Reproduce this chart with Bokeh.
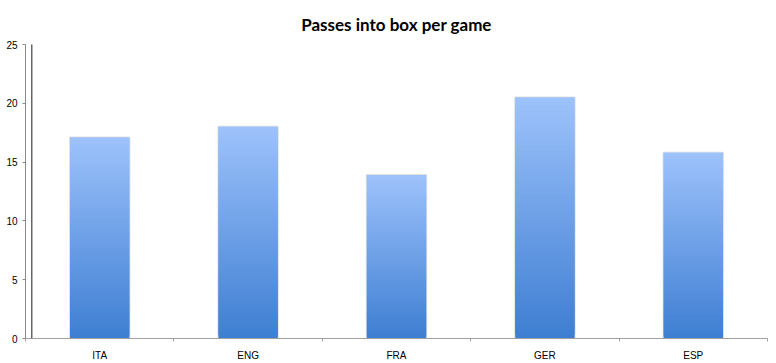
import numpy as np
from bokeh.plotting import figure
from bokeh.models import Range1d, FixedTicker, BoxAnnotation, ColumnDataSource
from bokeh.embed import file_html
from bokeh.resources import INLINE

categories = ["ITA", "ENG", "FRA", "GER", "ESP"]
values = [17.1, 18.0, 13.9, 20.5, 15.8]
y_ticks = [0, 5, 10, 15, 20, 25]
title_text = "Passes into box per game"

p = figure(width=776, height=363, output_backend="svg", toolbar_location=None,
           x_range=Range1d(0, len(categories)), y_range=Range1d(0, 25),
           min_border_left=25, min_border_right=9, min_border_top=44, min_border_bottom=21)
p.title.text = title_text
p.title.align = "center"
p.title.text_font = "Lato"
p.title.text_font_size = "17px"
p.title.text_font_style = "bold"
p.title.text_color = "#000000"
p.title.standoff = 20
p.outline_line_color = None
p.background_fill_color = "white"
p.border_fill_color = "white"
p.xgrid.grid_line_color = None
p.ygrid.grid_line_color = None

# y axis
p.yaxis.ticker = FixedTicker(ticks=y_ticks, minor_ticks=[])
p.yaxis.axis_line_color = "#8a8a8a"
p.yaxis.major_tick_line_color = "#8a8a8a"
p.yaxis.major_tick_in = 0
p.yaxis.major_tick_out = 3
p.yaxis.minor_tick_line_color = None
p.yaxis.major_label_text_font = "Liberation Sans"
p.yaxis.major_label_text_font_size = "10px"
p.yaxis.major_label_text_color = "#000000"
p.yaxis.major_label_standoff = 5

# x axis: labels at centres, tick marks at boundaries
centers = [i + 0.5 for i in range(len(categories))]
bounds = [float(i) for i in range(len(categories) + 1)]
p.xaxis.ticker = FixedTicker(ticks=centers, minor_ticks=bounds)
p.xaxis.major_label_overrides = {c: lab for c, lab in zip(centers, categories)}
p.xaxis.axis_line_color = "#a0a0a0"
p.xaxis.major_tick_line_color = None
p.xaxis.minor_tick_line_color = "#a0a0a0"
p.xaxis.minor_tick_in = 0
p.xaxis.minor_tick_out = 3
p.xaxis.major_label_text_font = "Liberation Sans"
p.xaxis.major_label_text_font_size = "10px"
p.xaxis.major_label_text_color = "#000000"
p.xaxis.major_label_standoff = 5

bar_w = 0.4
# faint shadow border
p.vbar(x=centers, top=values, bottom=0, width=bar_w, fill_color=None,
       line_color="#e0e0e0", line_width=2)

# gradient bars (per-bar vertical gradient, light top -> dark bottom)
N = 60
top_rgb = np.array([157, 194, 251])
bot_rgb = np.array([62, 126, 210])
xs, bs, ts, cs = [], [], [], []
for c, v in zip(centers, values):
    for k in range(N):
        fm = (k + 0.5) / N
        rgb = bot_rgb + (top_rgb - bot_rgb) * fm
        xs.append(c)
        bs.append(v * k / N)
        ts.append(min(v, v * (k + 2) / N))
        cs.append("#%02x%02x%02x" % tuple(int(round(q)) for q in rgb))
src = ColumnDataSource(dict(x=xs, bottom=bs, top=ts, color=cs))
p.vbar(x="x", bottom="bottom", top="top", width=bar_w, fill_color="color",
       line_color=None, source=src)

# stray vertical rule seen in the reference
p.add_layout(BoxAnnotation(left=5.5, right=7, top=0, bottom=400,
                           left_units="screen", right_units="screen",
                           top_units="screen", bottom_units="screen",
                           fill_color="#666666", fill_alpha=1.0, line_color=None))

open("out.html", "w").write(file_html(p, INLINE))
